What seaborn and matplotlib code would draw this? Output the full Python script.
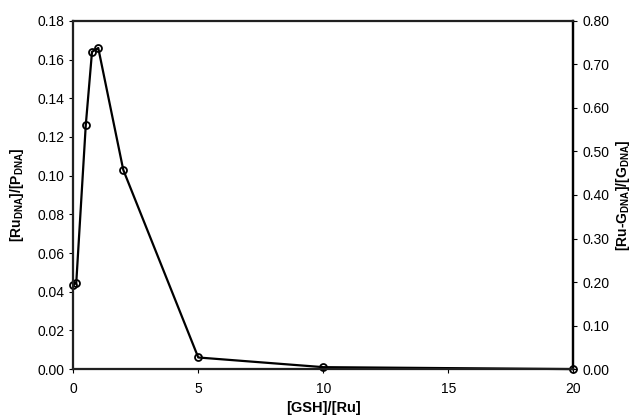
import numpy as np
import pandas as pd
import matplotlib
matplotlib.use("Agg")
import matplotlib.pyplot as plt
import seaborn as sns

# data
gsh_ratio = [0.0, 0.12, 0.5, 0.75, 1.0, 2.0, 5.0, 10.0, 20.0]
ru_dna_ratio = [0.0435, 0.0445, 0.126, 0.164, 0.166, 0.103, 0.006, 0.001, 0.0]

left_ticks = [0.00, 0.02, 0.04, 0.06, 0.08, 0.10, 0.12, 0.14, 0.16, 0.18]
right_ticks = [0.00, 0.10, 0.20, 0.30, 0.40, 0.50, 0.60, 0.70, 0.80]
x_ticks = [0, 5, 10, 15, 20]

df = pd.DataFrame({"gsh": gsh_ratio, "ru": ru_dna_ratio})

sns.set_theme(style="ticks")
plt.rcParams["font.family"] = ["Liberation Sans", "DejaVu Sans"]
plt.rcParams["text.color"] = "black"
plt.rcParams["axes.labelcolor"] = "black"
plt.rcParams["xtick.color"] = "black"
plt.rcParams["ytick.color"] = "black"

fig, ax = plt.subplots(figsize=(6.37, 4.18), dpi=100)
fig.subplots_adjust(left=0.115, right=0.9, top=0.95, bottom=0.117)

sns.lineplot(data=df, x="gsh", y="ru", ax=ax, color="black", linewidth=1.6,
             marker="o", markersize=5, markerfacecolor="none",
             markeredgecolor="black", markeredgewidth=1.3, clip_on=False)

ax.set_xlim(0, 20)
ax.set_ylim(0, 0.18)
ax.set_xticks(x_ticks)
ax.set_yticks(left_ticks)
ax.set_yticklabels([f"{v:.2f}" for v in left_ticks])
ax.tick_params(axis="both", labelsize=10, length=3, width=0.8, direction="out")
ax.tick_params(axis="x", pad=6)

ax.set_xlabel("[GSH]/[Ru]", fontsize=10.5, fontweight="bold", labelpad=4)
ax.set_ylabel(r"[Ru$_{\mathregular{DNA}}$]/[P$_{\mathregular{DNA}}$]", fontsize=10,
              fontweight="bold", labelpad=8)

for side in ["left", "right", "top", "bottom"]:
    ax.spines[side].set_visible(True)
    ax.spines[side].set_color("black")
    ax.spines[side].set_linewidth(1.6)

ax2 = ax.twinx()
ax2.set_ylim(0, 0.8)
ax2.set_yticks(right_ticks)
ax2.set_yticklabels([f"{v:.2f}" for v in right_ticks])
ax2.tick_params(axis="y", labelsize=10, length=3, width=0.8, direction="out")
ax2.set_ylabel(r"[Ru-G$_{\mathregular{DNA}}$]/[G$_{\mathregular{DNA}}$]", fontsize=10,
               fontweight="bold", rotation=90, labelpad=3)
ax2.spines["right"].set_linewidth(1.6)
ax2.spines["right"].set_color("black")

fig.savefig("out.png", dpi=100)
